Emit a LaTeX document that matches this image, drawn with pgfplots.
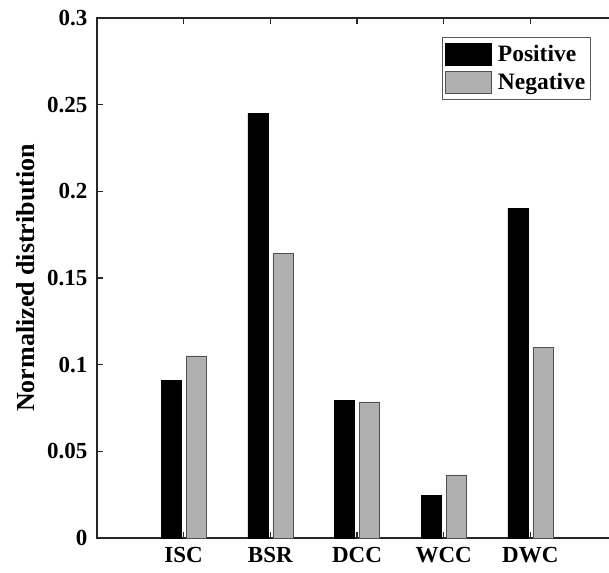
\documentclass[border=0pt]{standalone}
\usepackage{fontspec}
\setmainfont{Liberation Serif}
\usepackage{pgfplots}
\pgfplotsset{compat=1.18}
\definecolor{axgray}{HTML}{262626}
\definecolor{negfill}{HTML}{B0B0B0}
\definecolor{negedge}{HTML}{505050}

\begin{document}
\begin{tikzpicture}
\begin{axis}[
    name=ax,
    scale only axis,
    width=520pt, height=520pt,
    ybar=5pt,
    bar width=20pt,
    xmin=0, xmax=6,
    ymin=0, ymax=0.3,
    xtick={1,2,3,4,5},
    xticklabels={ISC,BSR,DCC,WCC,DWC},
    ytick={0,0.05,0.1,0.15,0.2,0.25,0.3},
    yticklabels={0,0.05,0.1,0.15,0.2,0.25,0.3},
    tick align=inside,
    xtick pos=both, ytick pos=both,
    major tick length=6pt,
    every tick/.style={axgray, line width=1.5pt},
    axis line style={axgray, line width=1.8pt},
    ticklabel style={font=\fontsize{23}{26}\selectfont\bfseries, text=black},
    xticklabel style={yshift=-6pt},
    yticklabel style={xshift=-6pt},
    ylabel={Normalized distribution},
    every axis y label/.style={at={(rel axis cs:0,0.5)}, xshift=-71pt, rotate=90, anchor=center,
        font=\fontsize{26}{30}\selectfont\bfseries},
    legend cell align=left,
    legend style={at={(0.663,0.964)}, anchor=north west, draw=gray!70!black, line width=0.8pt,
        font=\fontsize{23.5}{26}\selectfont\bfseries, inner xsep=3pt, inner ysep=6pt,
        row sep=5pt},
    legend image code/.code={\draw[#1] (0pt,-11pt) rectangle (46pt,11pt); \path (50pt,0pt);},
]
\addplot[fill=black, draw=black] coordinates {
    (1,0.091) (2,0.245) (3,0.0796) (4,0.0248) (5,0.190)
};
\addlegendentry{Positive\hspace{7pt}}
\addplot[fill=negfill, draw=negedge, line width=0.6pt] coordinates {
    (1,0.105) (2,0.164) (3,0.0785) (4,0.0364) (5,0.110)
};
\addlegendentry{Negative\hspace{7pt}}
\end{axis}
\pgfresetboundingbox
\path[use as bounding box] ([xshift=-97pt,yshift=-34pt]ax.south west) rectangle ([xshift=-8pt,yshift=18pt]ax.north east);
\end{tikzpicture}
\end{document}
